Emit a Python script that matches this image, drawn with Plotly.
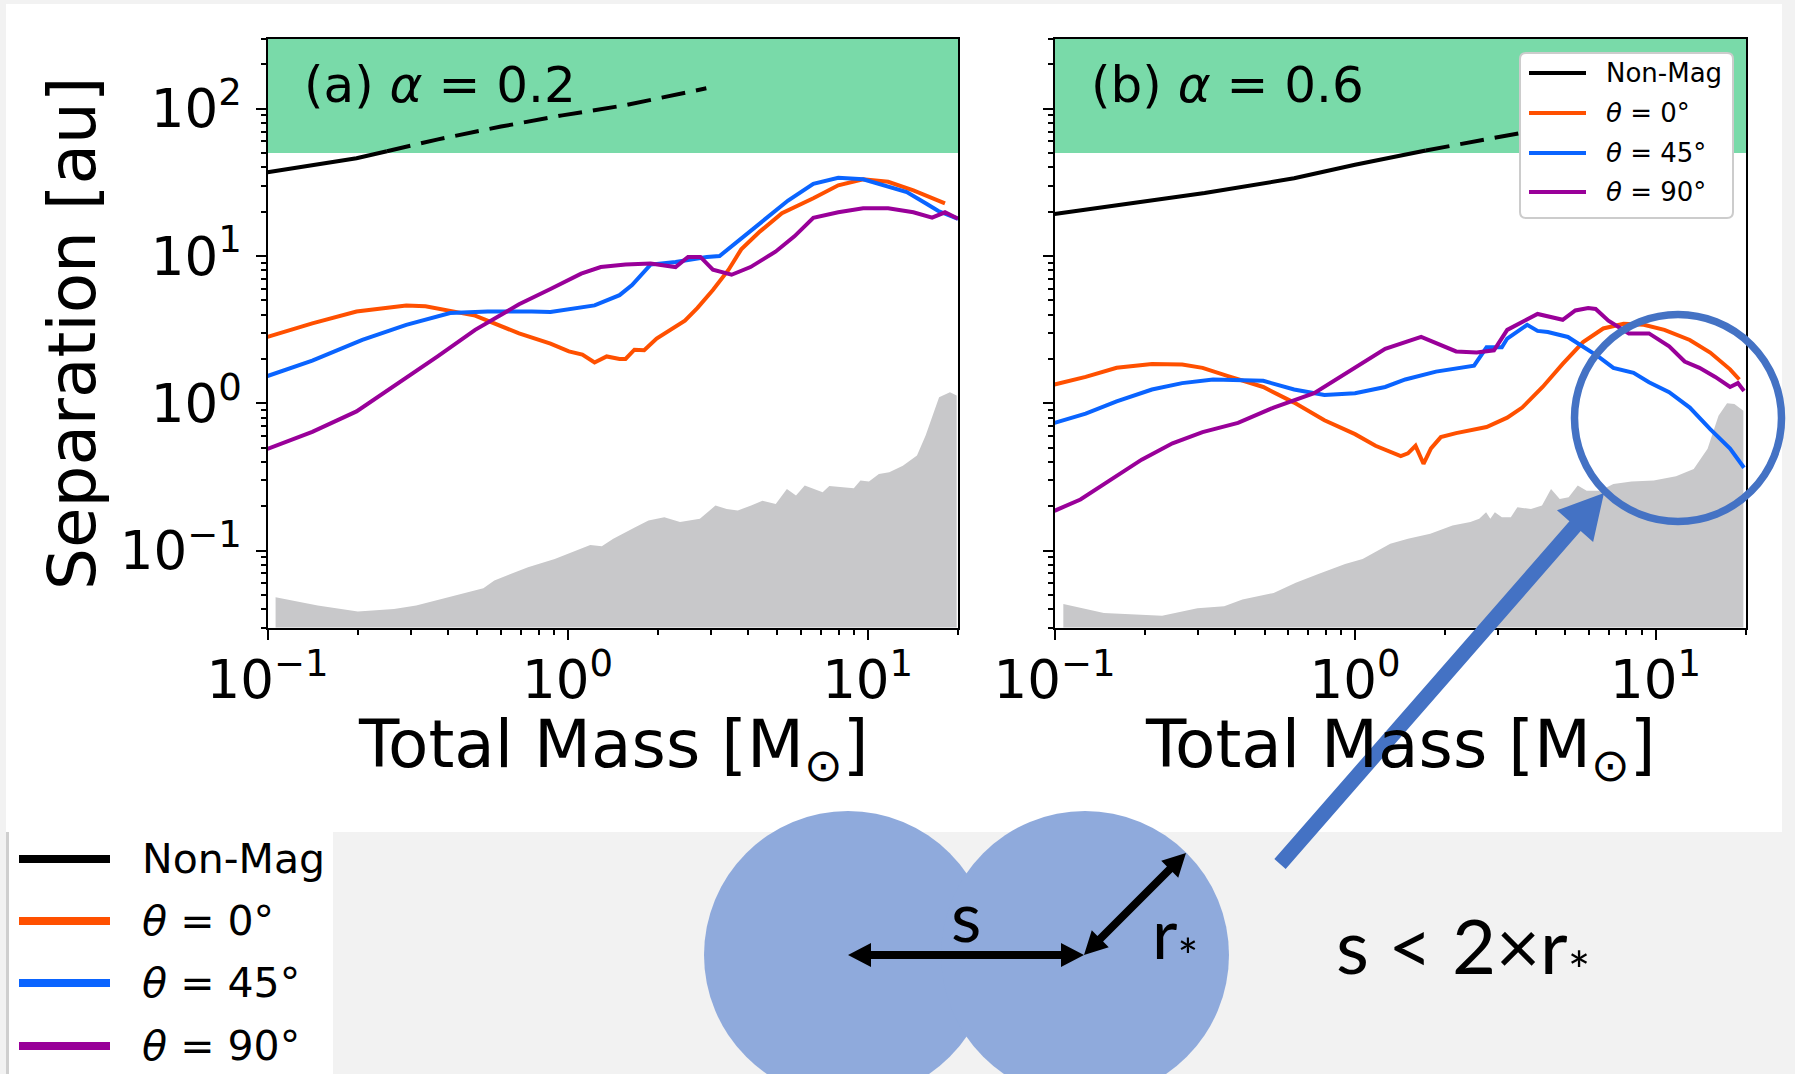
import math
import plotly.graph_objects as go

W, H = 1795, 1074

# ---------------- data ----------------
# panel (a) alpha = 0.2
a_nonmag_solid_m = [0.1, 0.141, 0.198, 0.25]
a_nonmag_solid_s = [37.0, 41.5, 46.1, 51.5]
a_nonmag_dash_m = [0.25, 0.37, 0.6, 0.96, 1.56, 2.9]
a_nonmag_dash_s = [51.5, 62.0, 75.7, 90.2, 105.7, 137.7]

a_t0_m = [0.1, 0.141, 0.198, 0.290, 0.336, 0.492, 0.689, 0.877, 1.01, 1.12, 1.23, 1.35, 1.49, 1.56,
          1.67, 1.80, 1.98, 2.23, 2.46, 2.71, 3.05, 3.44, 3.79, 4.38, 5.18, 6.59, 7.98, 9.66, 11.7,
          14.2, 16.4, 18.1]
a_t0_s = [2.82, 3.49, 4.20, 4.62, 4.55, 3.94, 2.98, 2.54, 2.25, 2.14, 1.89, 2.08, 2.00, 2.00,
          2.31, 2.29, 2.75, 3.22, 3.64, 4.44, 5.87, 8.07, 11.1, 14.7, 19.5, 24.7, 30.2, 33.2, 31.9,
          27.9, 24.7, 22.8]

a_t45_m = [0.1, 0.141, 0.207, 0.290, 0.406, 0.542, 0.759, 0.877, 1.23, 1.49, 1.64, 1.89, 2.29, 2.91,
           3.21, 3.88, 4.71, 5.43, 6.59, 7.98, 9.66, 11.7, 13.5, 15.6, 17.2, 20.0]
a_t45_s = [1.53, 1.95, 2.69, 3.41, 4.10, 4.20, 4.20, 4.17, 4.62, 5.42, 6.35, 8.75, 9.10, 9.86,
           10.0, 13.6, 18.7, 23.8, 30.9, 34.0, 33.2, 29.4, 27.2, 22.8, 20.2, 17.9]

a_t90_m = [0.1, 0.141, 0.198, 0.277, 0.369, 0.492, 0.689, 0.877, 1.11, 1.29, 1.56, 1.89, 2.29, 2.52,
           2.77, 3.05, 3.52, 4.07, 4.93, 5.70, 6.59, 7.98, 9.66, 11.7, 14.2, 16.4, 18.1, 20.0]
a_t90_s = [0.49, 0.64, 0.88, 1.39, 2.08, 3.15, 4.70, 5.97, 7.59, 8.41, 8.75, 8.89, 8.41, 9.86,
           9.86, 8.07, 7.46, 8.41, 10.7, 13.6, 18.2, 19.8, 21.1, 21.1, 19.8, 18.2, 19.8, 17.9]

a_fill_m = [0.1064, 0.147, 0.200, 0.264, 0.313, 0.398, 0.524, 0.570, 0.738, 0.906, 1.11, 1.19, 1.30,
            1.42, 1.68, 1.86, 2.10, 2.37, 2.76, 3.11, 3.39, 3.69, 4.09, 4.46, 4.94, 5.38, 5.77, 6.17,
            7.08, 7.45, 8.99, 9.46, 10.1, 10.9, 11.8, 13.1, 14.6, 15.6, 17.3, 18.8, 19.8]
a_fill_s = [0.0482, 0.0423, 0.0385, 0.0401, 0.0423, 0.0482, 0.0555, 0.0625, 0.0771, 0.0877, 0.1035,
            0.109, 0.107, 0.120, 0.144, 0.160, 0.168, 0.156, 0.164, 0.202, 0.191, 0.187, 0.202, 0.218,
            0.207, 0.262, 0.236, 0.276, 0.249, 0.274, 0.265, 0.299, 0.294, 0.331, 0.340, 0.377, 0.441,
            0.603, 1.10, 1.19, 1.13]

# panel (b) alpha = 0.6
b_nonmag_solid_m = [0.1, 0.21, 0.316, 0.627, 1.0, 1.72]
b_nonmag_solid_s = [19.3, 23.9, 26.8, 33.7, 41.7, 52.1]
b_nonmag_dash_m = [1.72, 2.5, 3.5]
b_nonmag_dash_s = [52.1, 59.6, 68.0]

b_t0_m = [0.1, 0.127, 0.161, 0.211, 0.266, 0.311, 0.378, 0.495, 0.627, 0.791, 1.0, 1.17, 1.42, 1.50,
          1.59, 1.69, 1.79, 1.93, 2.17, 2.74, 3.21, 3.60, 4.21, 4.91, 5.74, 6.70, 7.83, 9.14, 10.7,
          13.0, 15.2, 17.7, 19.0]
b_t0_s = [1.34, 1.51, 1.74, 1.85, 1.83, 1.74, 1.53, 1.29, 1.01, 0.766, 0.617, 0.514, 0.438, 0.457,
          0.514, 0.388, 0.493, 0.589, 0.627, 0.690, 0.798, 0.935, 1.29, 1.85, 2.60, 3.22, 3.47, 3.41,
          3.15, 2.69, 2.21, 1.70, 1.45]

b_t45_m = [0.1, 0.127, 0.161, 0.211, 0.266, 0.337, 0.495, 0.627, 0.791, 1.0, 1.26, 1.47, 1.86, 2.49,
           2.74, 3.08, 3.21, 3.74, 4.05, 4.38, 5.11, 5.74, 6.44, 7.24, 8.45, 9.51, 11.1, 13.0, 15.2,
           17.7, 19.7]
b_t45_s = [0.736, 0.849, 1.03, 1.24, 1.37, 1.45, 1.42, 1.24, 1.14, 1.17, 1.29, 1.45, 1.64, 1.80,
           2.40, 2.40, 2.75, 3.41, 3.10, 3.05, 2.82, 2.44, 2.08, 1.74, 1.61, 1.39, 1.19, 0.935, 0.668,
           0.493, 0.365]

b_t90_m = [0.1, 0.122, 0.155, 0.195, 0.247, 0.311, 0.408, 0.536, 0.731, 0.923, 1.26, 1.66, 2.17, 2.54,
           2.90, 3.21, 3.60, 4.05, 4.91, 5.41, 5.97, 6.32, 6.97, 8.15, 9.51, 11.1, 12.5, 14.0, 15.8,
           17.7, 18.8, 19.7]
b_t90_s = [0.186, 0.222, 0.305, 0.414, 0.535, 0.637, 0.736, 0.935, 1.17, 1.57, 2.34, 2.82, 2.25, 2.21,
           2.29, 3.15, 3.58, 4.04, 3.69, 4.27, 4.44, 4.37, 3.64, 2.98, 2.98, 2.44, 1.92, 1.74, 1.51,
           1.29, 1.37, 1.21]

b_fill_m = [0.107, 0.1315, 0.146, 0.228, 0.261, 0.299, 0.367, 0.422, 0.536, 0.635, 0.755, 0.927, 1.06,
            1.31, 1.50, 1.78, 2.11, 2.42, 2.59, 2.73, 2.82, 2.92, 3.08, 3.30, 3.47, 3.85, 4.19, 4.49,
            4.80, 5.14, 5.51, 5.90, 6.53, 7.24, 8.32, 9.86, 11.7, 13.4, 14.9, 16.2, 17.3, 18.3, 19.6]
b_fill_s = [0.0434, 0.0397, 0.0377, 0.0361, 0.0381, 0.0406, 0.0419, 0.0465, 0.0515, 0.0603, 0.0693,
            0.0811, 0.0877, 0.111, 0.120, 0.130, 0.148, 0.156, 0.164, 0.182, 0.164, 0.182, 0.168, 0.168,
            0.197, 0.191, 0.202, 0.262, 0.224, 0.230, 0.276, 0.255, 0.255, 0.283, 0.294, 0.299, 0.319,
            0.358, 0.490, 0.824, 1.00, 0.989, 0.891]

mag_threshold = 50.0  # au, green region above
x_ticks = [0.1, 1, 10]
x_ticktext = ['10<sup>\u22121</sup>', '10<sup>0</sup>', '10<sup>1</sup>']
y_ticks = [0.1, 1, 10, 100]
y_ticktext = ['10<sup>\u22121</sup>', '10<sup>0</sup>', '10<sup>1</sup>', '10<sup>2</sup>']
x_minor = [0.2, 0.3, 0.4, 0.5, 0.6, 0.7, 0.8, 0.9, 2, 3, 4, 5, 6, 7, 8, 9, 20]
y_minor = [0.03, 0.04, 0.05, 0.06, 0.07, 0.08, 0.09, 0.2, 0.3, 0.4, 0.5, 0.6, 0.7, 0.8, 0.9,
           2, 3, 4, 5, 6, 7, 8, 9, 20, 30, 40, 50, 60, 70, 80, 90, 200, 300]
x_range = [0.1, 20]
y_range = [0.03, 300]

legend_labels = ['Non-Mag', '<i>\u03b8</i> = 0\u00b0', '<i>\u03b8</i> = 45\u00b0', '<i>\u03b8</i> = 90\u00b0']
COL_BLACK = '#000000'
COL_ORANGE = '#ff5000'
COL_BLUE = '#0a64ff'
COL_PURPLE = '#990099'
legend_colors = [COL_BLACK, COL_ORANGE, COL_BLUE, COL_PURPLE]
COL_FILL = '#c8c8ca'
COL_GREEN = '#79daa9'
COL_STAR = '#8faadc'
COL_ACC = '#4472c4'

FONT = 'DejaVu Sans'
LW = 4


def px(x):
    return x / W


def py(y):
    return 1 - y / H


fig = go.Figure()

panels = [
    dict(xa='x', ya='y', ns=(a_nonmag_solid_m, a_nonmag_solid_s), nd=(a_nonmag_dash_m, a_nonmag_dash_s),
         t0=(a_t0_m, a_t0_s), t45=(a_t45_m, a_t45_s), t90=(a_t90_m, a_t90_s), fill=(a_fill_m, a_fill_s)),
    dict(xa='x2', ya='y2', ns=(b_nonmag_solid_m, b_nonmag_solid_s), nd=(b_nonmag_dash_m, b_nonmag_dash_s),
         t0=(b_t0_m, b_t0_s), t45=(b_t45_m, b_t45_s), t90=(b_t90_m, b_t90_s), fill=(b_fill_m, b_fill_s)),
]

for p in panels:
    fm, fs = p['fill']
    floor = y_range[0] / 10
    fig.add_trace(go.Scatter(x=fm + [fm[-1], fm[0]], y=fs + [floor, floor], mode='lines',
                             fill='toself', fillcolor=COL_FILL, line=dict(width=0, color=COL_FILL),
                             xaxis=p['xa'], yaxis=p['ya'], hoverinfo='skip'))
    fig.add_trace(go.Scatter(x=p['nd'][0], y=p['nd'][1], mode='lines',
                             line=dict(color=COL_BLACK, width=LW, dash='24px,11px'),
                             xaxis=p['xa'], yaxis=p['ya']))
    fig.add_trace(go.Scatter(x=p['ns'][0], y=p['ns'][1], mode='lines', name='Non-Mag',
                             line=dict(color=COL_BLACK, width=LW), xaxis=p['xa'], yaxis=p['ya']))
    for key, col in (('t0', COL_ORANGE), ('t45', COL_BLUE), ('t90', COL_PURPLE)):
        fig.add_trace(go.Scatter(x=p[key][0], y=p[key][1], mode='lines',
                                 line=dict(color=col, width=LW, shape='linear'),
                                 xaxis=p['xa'], yaxis=p['ya']))

# ---------------- axes ----------------
common_x = dict(type='log', range=[math.log10(x_range[0]), math.log10(x_range[1])],
                showline=True, linewidth=2, linecolor='black', mirror=True,
                ticks='outside', ticklen=10, tickwidth=2, tickcolor='black',
                tickmode='array', tickvals=x_ticks, ticktext=x_ticktext,
                tickfont=dict(family=FONT, size=53, color='black'),
                minor=dict(ticks='outside', ticklen=5, tickwidth=1.5, tickcolor='black',
                           tickmode='array', tickvals=x_minor, showgrid=False),
                showgrid=False, zeroline=False, ticklabelstandoff=-5, automargin=False)
common_y = dict(type='log', range=[math.log10(y_range[0]), math.log10(y_range[1])],
                showline=True, linewidth=2, linecolor='black', mirror=True,
                ticks='outside', ticklen=10, tickwidth=2, tickcolor='black',
                tickmode='array', tickvals=y_ticks, ticktext=y_ticktext,
                tickfont=dict(family=FONT, size=53, color='black'),
                minor=dict(ticks='outside', ticklen=5, tickwidth=1.5, tickcolor='black',
                           tickmode='array', tickvals=y_minor, showgrid=False),
                showgrid=False, zeroline=False, ticklabelstandoff=3, automargin=False)

A_X0, A_X1 = 267.5, 958.0
B_X0, B_X1 = 1054.5, 1746.0
P_Y0, P_Y1 = 38.5, 627.5

fig.update_layout(
    xaxis=dict(common_x, domain=[px(A_X0), px(A_X1)], anchor='y'),
    yaxis=dict(common_y, domain=[py(P_Y1), py(P_Y0)], anchor='x'),
    xaxis2=dict(common_x, domain=[px(B_X0), px(B_X1)], anchor='y2'),
    yaxis2=dict(common_y, domain=[py(P_Y1), py(P_Y0)], anchor='x2', showticklabels=False),
)

shapes = []
# page panels
shapes.append(dict(type='rect', xref='paper', yref='paper', x0=px(6), x1=px(1782), y0=py(832), y1=py(4),
                   fillcolor='white', line=dict(width=0), layer='below'))
shapes.append(dict(type='rect', xref='paper', yref='paper', x0=px(9), x1=px(333), y0=py(1074), y1=py(832),
                   fillcolor='white', line=dict(width=0), layer='below'))
shapes.append(dict(type='line', xref='paper', yref='paper', x0=px(7.5), x1=px(7.5), y0=py(1074), y1=py(832),
                   line=dict(color='#cfcfcf', width=3), layer='below'))
# magnetic-braking-free region (green band)
for xr, yr in (('x domain', 'y'), ('x2 domain', 'y2')):
    shapes.append(dict(type='rect', xref=xr, yref=yr, x0=0, x1=1,
                       y0=mag_threshold, y1=y_range[1],
                       fillcolor=COL_GREEN, line=dict(width=0), layer='below'))


def rounded_rect(x0, y0, x1, y1, r):
    return (f"M {px(x0 + r)},{py(y0)} L {px(x1 - r)},{py(y0)} Q {px(x1)},{py(y0)} {px(x1)},{py(y0 + r)} "
            f"L {px(x1)},{py(y1 - r)} Q {px(x1)},{py(y1)} {px(x1 - r)},{py(y1)} "
            f"L {px(x0 + r)},{py(y1)} Q {px(x0)},{py(y1)} {px(x0)},{py(y1 - r)} "
            f"L {px(x0)},{py(y0 + r)} Q {px(x0)},{py(y0)} {px(x0 + r)},{py(y0)} Z")


def arrow_path(x0, y0, x1, y1, shaft, head_w, head_l, both=False):
    L = math.hypot(x1 - x0, y1 - y0)
    ux, uy = (x1 - x0) / L, (y1 - y0) / L
    nx, ny = -uy, ux
    pts = []
    if both:
        bx, by = x0 + ux * head_l, y0 + uy * head_l
        pts += [(x0, y0), (bx - nx * head_w / 2, by - ny * head_w / 2), (bx - nx * shaft / 2, by - ny * shaft / 2)]
    else:
        pts += [(x0 - nx * shaft / 2, y0 - ny * shaft / 2)]
    ex, ey = x1 - ux * head_l, y1 - uy * head_l
    pts += [(ex - nx * shaft / 2, ey - ny * shaft / 2), (ex - nx * head_w / 2, ey - ny * head_w / 2), (x1, y1),
            (ex + nx * head_w / 2, ey + ny * head_w / 2), (ex + nx * shaft / 2, ey + ny * shaft / 2)]
    if both:
        bx, by = x0 + ux * head_l, y0 + uy * head_l
        pts += [(bx + nx * shaft / 2, by + ny * shaft / 2), (bx + nx * head_w / 2, by + ny * head_w / 2)]
    else:
        pts += [(x0 + nx * shaft / 2, y0 + ny * shaft / 2)]
    return 'M ' + ' L '.join(f'{px(a)},{py(b)}' for a, b in pts) + ' Z'


# inner legend (panel b)
shapes.append(dict(type='path', xref='paper', yref='paper', path=rounded_rect(1520, 53, 1733, 218, 6),
                   fillcolor='white', line=dict(color='#cccccc', width=2), layer='above'))
inner_rows = [73, 113, 153, 192]
for yy, col in zip(inner_rows, legend_colors):
    shapes.append(dict(type='line', xref='paper', yref='paper', x0=px(1529), x1=px(1586), y0=py(yy), y1=py(yy),
                       line=dict(color=col, width=4), layer='above'))
# bottom-left legend
outer_rows = [859, 921, 983, 1046]
for yy, col in zip(outer_rows, legend_colors):
    shapes.append(dict(type='line', xref='paper', yref='paper', x0=px(19), x1=px(110), y0=py(yy), y1=py(yy),
                       line=dict(color=col, width=8), layer='above'))

# two stars
for cx in (848, 1085):
    r = 144
    shapes.append(dict(type='circle', xref='paper', yref='paper', x0=px(cx - r), x1=px(cx + r),
                       y0=py(955 + r), y1=py(955 - r), fillcolor=COL_STAR, line=dict(width=0), layer='above'))
# s arrow and r arrow
shapes.append(dict(type='path', xref='paper', yref='paper', path=arrow_path(848, 955, 1084, 955, 8, 24, 23, both=True),
                   fillcolor='black', line=dict(width=0), layer='above'))
shapes.append(dict(type='path', xref='paper', yref='paper', path=arrow_path(1084, 955, 1186, 853, 8, 24, 23, both=True),
                   fillcolor='black', line=dict(width=0), layer='above'))
# big pointer arrow and highlight circle
shapes.append(dict(type='path', xref='paper', yref='paper', path=arrow_path(1280, 864, 1604, 493, 15, 48, 44),
                   fillcolor=COL_ACC, line=dict(width=0), layer='above'))
rc = 103.5
shapes.append(dict(type='circle', xref='paper', yref='paper', x0=px(1678 - rc), x1=px(1678 + rc),
                   y0=py(418 + rc), y1=py(418 - rc), fillcolor='rgba(0,0,0,0)',
                   line=dict(color=COL_ACC, width=7.5), layer='above'))

annotations = []


def txt(x, y, text, size, family=FONT, xanchor='center', yanchor='middle', angle=0):
    annotations.append(dict(x=px(x), y=py(y), xref='paper', yref='paper', text=text, showarrow=False,
                            xanchor=xanchor, yanchor=yanchor, textangle=angle,
                            font=dict(family=family, size=size, color='black')))


txt(302, 85, '(a) <i>\u03b1</i> = 0.2', 50, xanchor='left')
txt(1089, 85, '(b) <i>\u03b1</i> = 0.6', 50, xanchor='left')
txt((A_X0 + A_X1) / 2, 749, 'Total Mass [M<sub>\u2299</sub>]', 66)
txt((B_X0 + B_X1) / 2, 749, 'Total Mass [M<sub>\u2299</sub>]', 66)
txt(72, (P_Y0 + P_Y1) / 2, 'Separation [au]', 66, angle=-90)
for yy, lab in zip(inner_rows, legend_labels):
    txt(1604, yy, lab, 26, xanchor='left')
for yy, lab in zip(outer_rows, legend_labels):
    txt(140, yy, lab, 41, xanchor='left')
txt(966, 915, 's', 70, family='Lato')
txt(1150, 937, 'r<sub>*</sub>', 70, family='Lato', xanchor='left')
txt(1463, 950, 's &lt; 2\u00d7r<sub>*</sub>', 76, family='Lato')

fig.update_layout(width=W, height=H, autosize=False, margin=dict(l=0, r=0, t=0, b=0, pad=0),
                  paper_bgcolor='#f2f2f2', plot_bgcolor='white', showlegend=False,
                  font=dict(family=FONT, color='black'), shapes=shapes, annotations=annotations)

fig.write_html("out.html")
